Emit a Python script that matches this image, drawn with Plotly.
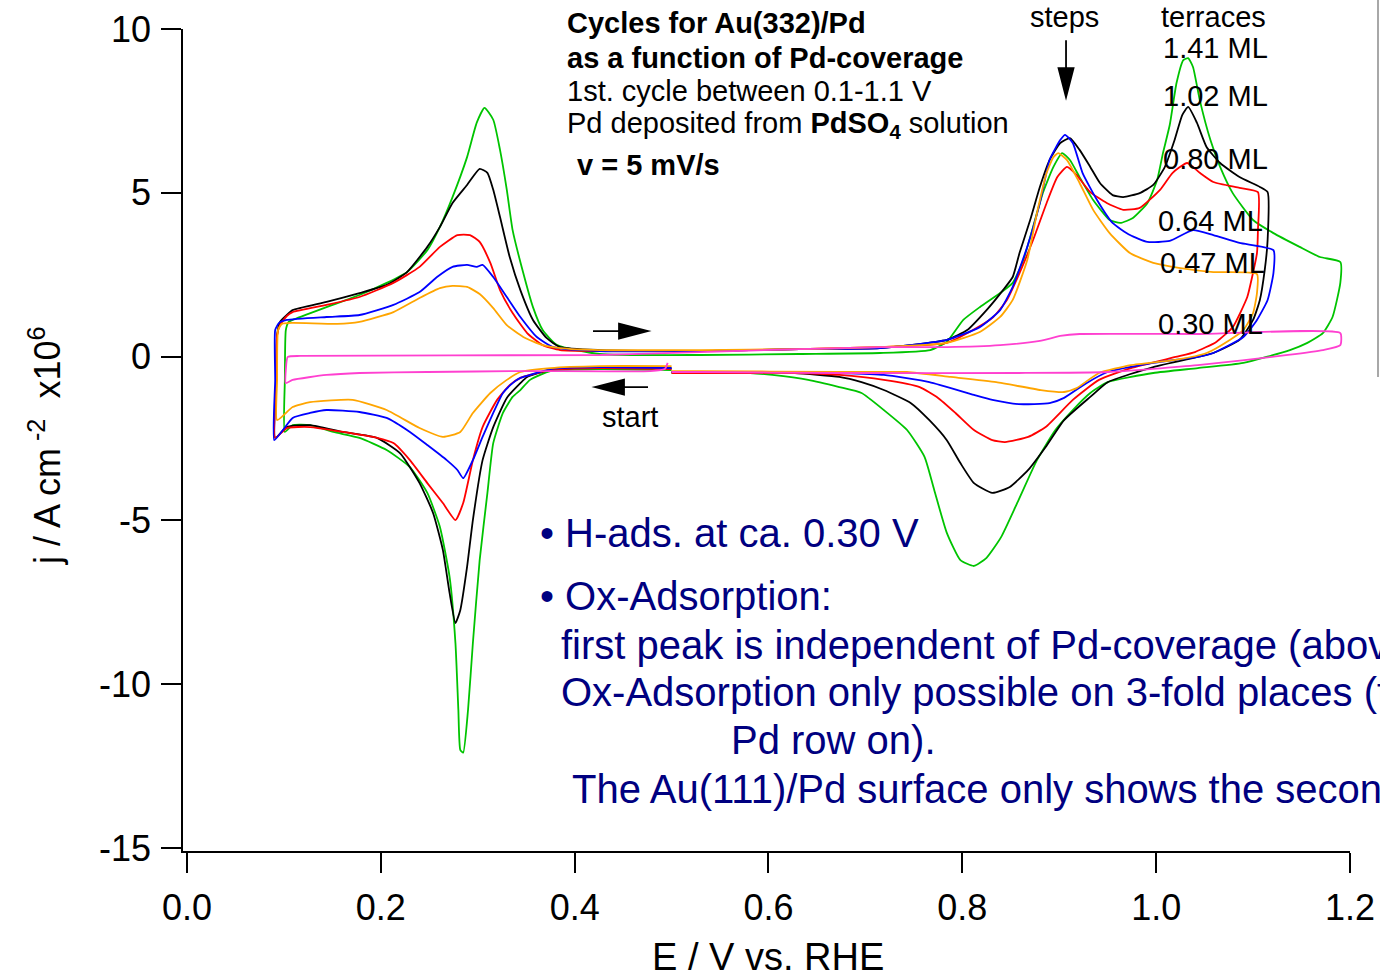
import plotly.graph_objects as go

# Cyclic voltammograms, Au(332)/Pd, j in A cm^-2 x1e6 vs E in V (RHE).
# Each loop starts at 0.5 V going negative, turns at the lower limit,
# sweeps up to the upper limit and returns to 0.5 V.

e_141 = [0.500, 0.426, 0.375, 0.354, 0.344, 0.336, 0.326, 0.316, 0.310, 0.302, 0.295, 0.290, 0.285, 0.282,
         0.280, 0.277, 0.271, 0.261, 0.248, 0.230, 0.206, 0.178, 0.151, 0.127, 0.109, 0.101, 0.101, 0.102,
         0.105, 0.109, 0.144, 0.178, 0.206, 0.227, 0.248, 0.261, 0.274, 0.289, 0.299, 0.307, 0.316, 0.323,
         0.330, 0.336, 0.347, 0.357, 0.367, 0.382, 0.426, 0.529, 0.632, 0.715, 0.767, 0.784, 0.801, 0.818,
         0.839, 0.852, 0.863, 0.873, 0.883, 0.894, 0.903, 0.911, 0.921, 0.935, 0.952, 0.963, 0.976, 0.991,
         1.001, 1.007, 1.014, 1.021, 1.028, 1.033, 1.038, 1.045, 1.056, 1.066, 1.079, 1.100, 1.121, 1.148,
         1.169, 1.190, 1.190, 1.182, 1.172, 1.156, 1.138, 1.090, 1.043, 0.997, 0.950, 0.932, 0.914, 0.896,
         0.877, 0.858, 0.840, 0.825, 0.812, 0.798, 0.784, 0.771, 0.761, 0.743, 0.719, 0.696, 0.673, 0.641,
         0.604, 0.581, 0.529, 0.500]
j_141 = [-0.41, -0.38, -0.44, -0.71, -1.02, -1.23, -1.72, -2.64, -4.16, -6.21, -8.74, -10.78, -12.09, -12.00,
         -10.78, -8.74, -6.73, -5.20, -4.16, -3.37, -2.85, -2.48, -2.30, -2.09, -2.09, -2.30, -0.71, 0.81,
         1.06, 1.12, 1.51, 1.88, 2.25, 2.58, 3.25, 3.96, 4.87, 6.09, 7.14, 7.59, 7.23, 6.31,
         5.09, 3.86, 2.55, 1.51, 0.81, 0.35, 0.08, 0.05, 0.08, 0.11, 0.20, 0.45, 1.12, 1.51,
         1.94, 2.25, 2.95, 3.96, 4.99, 5.79, 6.21, 6.00, 5.48, 4.78, 4.17, 4.08, 4.23, 4.69,
         5.39, 6.21, 7.07, 8.35, 9.05, 9.11, 8.84, 7.83, 6.61, 5.79, 4.99, 4.17, 3.77, 3.35,
         3.04, 2.89, 2.25, 1.21, 0.72, 0.42, 0.20, -0.19, -0.35, -0.50, -0.78, -1.11, -1.63, -2.24,
         -3.16, -4.38, -5.51, -6.14, -6.39, -6.21, -5.38, -4.07, -3.06, -2.24, -1.63, -1.11, -0.93, -0.71,
         -0.56, -0.50, -0.50, -0.50]

e_102 = [0.500, 0.426, 0.375, 0.351, 0.344, 0.330, 0.316, 0.305, 0.295, 0.289, 0.282, 0.277, 0.271, 0.264,
         0.254, 0.240, 0.220, 0.196, 0.161, 0.127, 0.103, 0.091, 0.092, 0.093, 0.096, 0.103, 0.109, 0.144,
         0.178, 0.206, 0.227, 0.248, 0.261, 0.274, 0.289, 0.302, 0.310, 0.316, 0.323, 0.333, 0.344, 0.357,
         0.371, 0.385, 0.426, 0.529, 0.632, 0.715, 0.784, 0.805, 0.825, 0.842, 0.852, 0.859, 0.870, 0.880,
         0.890, 0.901, 0.911, 0.921, 0.932, 0.942, 0.955, 0.966, 0.983, 0.997, 1.009, 1.019, 1.027, 1.033,
         1.042, 1.052, 1.066, 1.086, 1.107, 1.115, 1.115, 1.112, 1.107, 1.100, 1.086, 1.059, 1.043, 0.997,
         0.950, 0.932, 0.905, 0.886, 0.868, 0.849, 0.831, 0.812, 0.798, 0.784, 0.766, 0.747, 0.719, 0.696,
         0.673, 0.627, 0.581, 0.529, 0.500]
j_102 = [-0.35, -0.32, -0.41, -0.62, -0.81, -1.26, -2.15, -3.16, -4.99, -6.42, -7.74, -8.13, -7.22, -5.90,
         -4.78, -3.86, -2.95, -2.48, -2.30, -2.09, -2.15, -2.48, -0.71, 0.66, 1.06, 1.27, 1.42, 1.67,
         1.94, 2.19, 2.58, 3.35, 3.96, 4.69, 5.24, 5.73, 5.61, 5.09, 4.26, 3.04, 2.03, 1.12,
         0.57, 0.29, 0.20, 0.17, 0.23, 0.26, 0.51, 0.81, 1.42, 2.03, 2.43, 3.16, 4.17, 5.18,
         6.00, 6.52, 6.67, 6.31, 5.79, 5.30, 4.93, 4.87, 4.99, 5.24, 5.79, 6.61, 7.38, 7.62,
         7.14, 6.40, 5.91, 5.48, 5.18, 5.02, 3.56, 2.64, 1.73, 1.12, 0.51, 0.11, -0.01, -0.32,
         -0.78, -1.23, -1.94, -2.76, -3.46, -3.98, -4.16, -3.86, -3.25, -2.55, -1.94, -1.42, -1.02, -0.78,
         -0.62, -0.50, -0.47, -0.47, -0.47]

e_080 = [0.500, 0.426, 0.375, 0.354, 0.344, 0.333, 0.320, 0.305, 0.295, 0.285, 0.277, 0.264, 0.248, 0.230,
         0.213, 0.196, 0.161, 0.127, 0.103, 0.091, 0.092, 0.093, 0.096, 0.103, 0.109, 0.144, 0.178, 0.213,
         0.240, 0.261, 0.279, 0.292, 0.302, 0.313, 0.323, 0.336, 0.351, 0.367, 0.385, 0.426, 0.529, 0.632,
         0.715, 0.784, 0.811, 0.832, 0.846, 0.859, 0.873, 0.887, 0.898, 0.908, 0.918, 0.932, 0.949, 0.966,
         0.983, 1.004, 1.017, 1.032, 1.045, 1.059, 1.086, 1.105, 1.105, 1.104, 1.099, 1.094, 1.079, 1.062,
         1.040, 1.020, 0.974, 0.941, 0.914, 0.886, 0.868, 0.844, 0.831, 0.812, 0.793, 0.775, 0.756, 0.719,
         0.673, 0.627, 0.581, 0.500]
j_080 = [-0.38, -0.35, -0.41, -0.56, -0.65, -0.87, -1.32, -2.15, -3.16, -4.47, -4.99, -4.47, -3.86, -3.16,
         -2.64, -2.48, -2.30, -2.15, -2.18, -2.48, -0.71, 0.66, 0.96, 1.24, 1.36, 1.58, 1.82, 2.25,
         2.74, 3.35, 3.71, 3.71, 3.50, 2.86, 2.03, 1.33, 0.72, 0.35, 0.20, 0.17, 0.17, 0.23,
         0.29, 0.42, 0.81, 1.21, 1.73, 2.55, 3.56, 4.69, 5.48, 5.79, 5.54, 5.02, 4.69, 4.48,
         4.54, 5.09, 5.61, 5.91, 5.61, 5.33, 5.15, 5.02, 3.86, 3.16, 2.43, 1.82, 0.90, 0.45,
         0.14, -0.01, -0.35, -0.71, -1.32, -2.15, -2.45, -2.61, -2.55, -2.24, -1.72, -1.26, -0.93, -0.71,
         -0.56, -0.50, -0.50, -0.50]

e_064 = [0.500, 0.426, 0.375, 0.354, 0.344, 0.336, 0.326, 0.316, 0.305, 0.295, 0.285, 0.279, 0.268, 0.248,
         0.230, 0.206, 0.178, 0.144, 0.127, 0.109, 0.099, 0.090, 0.091, 0.091, 0.095, 0.103, 0.144, 0.178,
         0.213, 0.240, 0.258, 0.274, 0.289, 0.299, 0.305, 0.316, 0.330, 0.344, 0.361, 0.378, 0.426, 0.529,
         0.632, 0.715, 0.784, 0.818, 0.839, 0.852, 0.867, 0.880, 0.890, 0.901, 0.906, 0.914, 0.924, 0.939,
         0.955, 0.973, 0.991, 1.014, 1.038, 1.059, 1.086, 1.121, 1.121, 1.115, 1.104, 1.090, 1.059, 1.043,
         0.997, 0.950, 0.928, 0.905, 0.890, 0.858, 0.831, 0.812, 0.766, 0.719, 0.673, 0.627, 0.529, 0.500]
j_064 = [-0.35, -0.32, -0.38, -0.56, -0.65, -0.81, -1.11, -1.72, -2.45, -3.16, -3.71, -3.46, -3.16, -2.70,
         -2.30, -1.87, -1.69, -1.63, -1.72, -1.87, -2.24, -2.55, -0.71, 0.81, 1.03, 1.12, 1.21, 1.27,
         1.58, 1.97, 2.43, 2.74, 2.80, 2.74, 2.80, 2.43, 1.82, 1.21, 0.60, 0.29, 0.17, 0.17,
         0.23, 0.26, 0.51, 0.90, 1.42, 2.13, 3.35, 4.69, 6.00, 6.61, 6.77, 6.52, 5.61, 4.78,
         4.08, 3.71, 3.50, 3.53, 3.86, 3.71, 3.47, 3.25, 2.55, 1.73, 1.12, 0.60, 0.11, -0.01,
         -0.19, -0.47, -0.81, -1.26, -1.42, -1.45, -1.32, -1.17, -0.78, -0.56, -0.50, -0.47, -0.47, -0.47]

e_047 = [0.500, 0.426, 0.375, 0.344, 0.330, 0.313, 0.295, 0.282, 0.264, 0.240, 0.206, 0.171, 0.127, 0.109,
         0.093, 0.093, 0.094, 0.098, 0.109, 0.155, 0.178, 0.213, 0.240, 0.261, 0.274, 0.289, 0.302, 0.316,
         0.330, 0.347, 0.367, 0.385, 0.426, 0.529, 0.632, 0.715, 0.784, 0.818, 0.839, 0.852, 0.867, 0.877,
         0.887, 0.894, 0.899, 0.908, 0.921, 0.935, 0.952, 0.973, 0.997, 1.025, 1.059, 1.104, 1.104, 1.100,
         1.090, 1.076, 1.052, 1.020, 0.974, 0.941, 0.918, 0.905, 0.881, 0.835, 0.788, 0.743, 0.673, 0.529,
         0.500]
j_047 = [-0.29, -0.29, -0.35, -0.47, -0.71, -1.11, -1.72, -2.30, -2.45, -2.18, -1.63, -1.32, -1.39, -1.54,
         -1.94, -0.71, 0.81, 1.00, 1.03, 1.00, 1.06, 1.36, 1.79, 2.09, 2.16, 2.13, 1.91, 1.48,
         0.96, 0.60, 0.35, 0.26, 0.20, 0.20, 0.23, 0.29, 0.42, 0.75, 1.21, 1.73, 2.95, 4.38,
         5.61, 6.09, 6.21, 6.00, 5.30, 4.48, 3.77, 3.16, 2.86, 2.70, 2.58, 2.52, 1.94, 1.33,
         0.81, 0.51, 0.11, -0.10, -0.26, -0.50, -0.96, -1.08, -1.02, -0.78, -0.62, -0.47, -0.47, -0.44,
         -0.44]

e_030 = [0.496, 0.493, 0.478, 0.344, 0.248, 0.178, 0.144, 0.109, 0.102, 0.102, 0.104, 0.117, 0.426, 0.529,
         0.632, 0.715, 0.784, 0.839, 0.880, 0.901, 0.921, 1.045, 1.190, 1.190, 1.172, 1.136, 1.043, 0.950,
         0.858, 0.673, 0.529, 0.500]
j_030 = [-0.19, -0.38, -0.44, -0.44, -0.47, -0.50, -0.56, -0.71, -0.81, -0.41, -0.01, 0.02, 0.05, 0.14,
         0.23, 0.29, 0.29, 0.35, 0.48, 0.63, 0.69, 0.69, 0.72, 0.35, 0.20, 0.05, -0.26, -0.47,
         -0.50, -0.50, -0.47, -0.47]

series = [
    ("1.41 ML", e_141, j_141, "#00C400"),
    ("1.02 ML", e_102, j_102, "#000000"),
    ("0.80 ML", e_080, j_080, "#FF0000"),
    ("0.64 ML", e_064, j_064, "#0000FF"),
    ("0.47 ML", e_047, j_047, "#FFA500"),
    ("0.30 ML", e_030, j_030, "#FF40D0"),
]

x_ticks = [0.0, 0.2, 0.4, 0.6, 0.8, 1.0, 1.2]
y_ticks = [-15, -10, -5, 0, 5, 10]
X_RANGE = [-0.0041, 1.2]
Y_RANGE = [-15.09, 10.0]

FONT = "Liberation Sans, Arial, sans-serif"

fig = go.Figure()
for name, e, j, col in series:
    fig.add_trace(go.Scatter(x=e, y=j, mode="lines", name=name,
                             line=dict(color=col, width=1.8, shape="spline", smoothing=0.5),
                             showlegend=False))


def note(x, y, text, size=29, color="black", xanchor="left", angle=0):
    # positions are given in data units and placed on the paper so that
    # labels outside the axis ranges are still drawn
    xp = (x - X_RANGE[0]) / (X_RANGE[1] - X_RANGE[0])
    yp = (y - Y_RANGE[0]) / (Y_RANGE[1] - Y_RANGE[0])
    fig.add_annotation(x=xp, y=yp, xref="paper", yref="paper", text=text, showarrow=False,
                       xanchor=xanchor, yanchor="middle", textangle=angle,
                       font=dict(family=FONT, size=size, color=color))


# header block
note(0.390, 10.18, "<b>Cycles for Au(332)/Pd</b>")
note(0.390, 9.11, "<b>as a function of Pd-coverage</b>")
note(0.390, 8.11, "1st. cycle between 0.1-1.1 V")
note(0.390, 7.07, "Pd deposited from <b>PdSO<sub>4</sub></b> solution")
note(0.400, 5.85, "<b>v = 5 mV/s</b>")

# peak / coverage labels
note(0.905, 10.37, "steps", xanchor="center")
note(1.059, 10.37, "terraces", xanchor="center")
for lab, yy, xx in [("1.41 ML", 9.42, 1.005), ("1.02 ML", 7.95, 1.005), ("0.80 ML", 6.03, 1.005),
                    ("0.64 ML", 4.14, 1.000), ("0.47 ML", 2.86, 1.002), ("0.30 ML", 1.00, 1.000)]:
    note(xx, yy, lab)
note(0.457, -1.84, "start", xanchor="center")

# remarks
NAVY = "#000080"
note(0.362, -5.38, "\u2022 H-ads. at ca. 0.30 V", size=40, color=NAVY)
note(0.362, -7.31, "\u2022 Ox-Adsorption:", size=40, color=NAVY)
note(0.384, -8.80, "first peak is independent of Pd-coverage (above", size=40, color=NAVY)
note(0.384, -10.24, "Ox-Adsorption only possible on 3-fold places (from the second", size=40, color=NAVY)
note(0.559, -11.70, "Pd row on).", size=40, color=NAVY)
note(0.395, -13.20, "The Au(111)/Pd surface only shows the second peak.", size=40, color=NAVY)

# axis titles
note(0.6, -18.33, "E / V vs. RHE", size=38, xanchor="center")
note(-0.1465, -2.70, "j / A cm<sup> -2</sup>  x10<sup>6</sup>", size=36, xanchor="center", angle=-90)

# sweep-direction arrows
arrow_style = dict(type="path", xref="x", yref="y", xsizemode="pixel", ysizemode="pixel",
                   line=dict(color="black", width=1.8), fillcolor="black")
fig.add_shape(xanchor=0.4757, yanchor=0.78, path="M-55,0 L-27,0 M0,0 L-29,7.5 L-29,-7.5 Z", **arrow_style)
fig.add_shape(xanchor=0.421, yanchor=-0.93, path="M53,0 L27,0 M0,0 L29,7.5 L29,-7.5 Z", **arrow_style)
fig.add_shape(xanchor=0.907, yanchor=7.92, path="M0,57 L0,28 M0,0 L-7.5,29 L7.5,29 Z", **arrow_style)

# thin grey rule at the right edge of the page
fig.add_shape(type="line", xref="paper", yref="paper", x0=1.024, x1=1.024, y0=0.5766, y1=1.04,
              line=dict(color="#A8A8A8", width=2))

axis_common = dict(showline=True, linecolor="black", linewidth=1.5, ticks="outside", ticklen=20,
                   tickwidth=1.5, tickcolor="black", showgrid=False, zeroline=False,
                   tickfont=dict(family=FONT, size=36, color="black"))
fig.update_xaxes(range=X_RANGE, tickvals=x_ticks, ticktext=[f"{v:.1f}" for v in x_ticks],
                 ticklabelstandoff=4, **axis_common)
fig.update_yaxes(range=Y_RANGE, tickvals=y_ticks, ticktext=[str(v) for v in y_ticks],
                 ticklabelstandoff=3, **axis_common)

fig.update_layout(width=1380, height=976, margin=dict(l=183, r=30, t=29, b=125, autoexpand=False),
                  paper_bgcolor="white", plot_bgcolor="white", showlegend=False,
                  font=dict(family=FONT, color="black"))

fig.write_html("out.html")
